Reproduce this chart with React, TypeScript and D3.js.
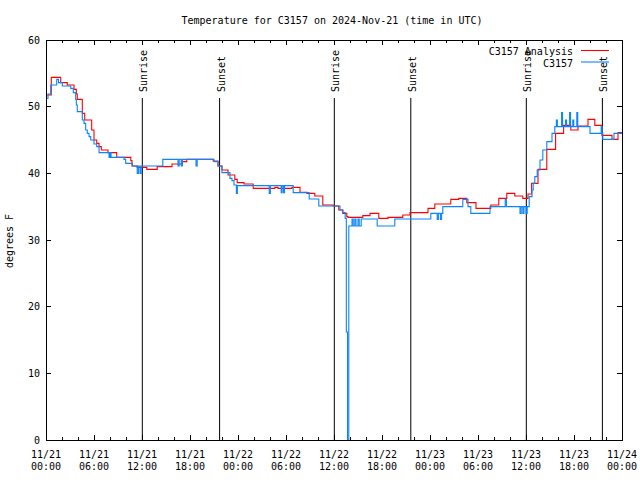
import React from 'react';
import * as d3 from 'd3';

const TITLE = 'Temperature for C3157 on 2024-Nov-21 (time in UTC)';
const Y_LABEL = 'degrees F';
const START = Date.UTC(2024, 10, 21);
const END_HOURS = 72;

// C3157 Analysis (hours since 2024-11-21 00:00 UTC)
const analysisHours = [0, 0.66, 1.84, 2.66, 3.5, 3.79, 3.91, 4.54, 4.84, 5.71, 6.0, 6.34, 6.63, 6.91, 7.75, 8.84, 10.6, 10.75, 11.4, 12.6, 13.9, 15.75, 17.0, 17.6, 20.9, 21.5, 22.0, 22.75, 23.6, 23.9, 24.75, 25.9, 28.6, 29.0, 30.75, 31.75, 32.6, 33.6, 34.6, 35.9, 36.6, 37.1, 37.6, 37.75, 39.6, 40.5, 41.6, 42.75, 44.6, 45.5, 47.75, 48.6, 50.6, 51.6, 52.6, 53.75, 55.6, 56.6, 57.6, 58.6, 59.6, 60.25, 60.7, 61.5, 62.6, 63.7, 64.7, 65.6, 66.5, 67.75, 68.6, 69.5, 70.75, 71.5, 72];
const analysisTemps = [51.75, 54.4, 53.6, 53.25, 52.6, 51.9, 51.1, 49, 48, 46.5, 45, 44.5, 44, 43.5, 43.1, 42.4, 41.9, 41.1, 40.9, 40.6, 41, 41.4, 41.75, 42.1, 41.85, 41.1, 40.5, 39.75, 39.1, 38.6, 38.4, 37.75, 37.9, 37.75, 37.9, 37.15, 37, 36.6, 35.25, 35.1, 34.5, 34, 33.5, 33.4, 33.65, 34, 33.25, 33.4, 33.75, 34.1, 34.75, 35.4, 36.1, 36.25, 35.6, 34.75, 35.25, 36.25, 37, 36.6, 36.25, 36.9, 38.5, 40.6, 43.6, 46, 47.2, 46.5, 47.1, 48.1, 47.2, 45.7, 45.1, 46.1, 46.1];

// C3157 station observations
const stationHours = [0, 0.25, 0.59, 1.34, 1.56, 2.04, 3.09, 3.41, 3.71, 3.79, 3.91, 4.54, 4.75, 4.96, 5.16, 5.38, 5.59, 6.0, 6.34, 6.63, 7.88, 8.0, 8.13, 9.75, 9.96, 10.8, 11.4, 11.55, 11.75, 11.9, 14.6, 16.5, 16.65, 16.9, 17.05, 18.75, 18.9, 21.0, 21.5, 22.0, 23.0, 23.25, 23.5, 23.8, 23.92, 27.9, 28.05, 29.4, 29.52, 29.7, 29.82, 30.9, 32.9, 34.1, 36.75, 37.1, 37.4, 37.54, 37.69, 37.85, 38.25, 38.4, 38.6, 38.75, 39.0, 39.15, 39.4, 41.4, 43.6, 48.1, 48.9, 49.05, 49.3, 49.45, 49.6, 52.1, 52.75, 53.1, 55.5, 57.4, 57.55, 59.25, 59.4, 59.6, 59.75, 60.0, 60.15, 60.4, 60.75, 60.9, 61.1, 61.4, 61.75, 62.1, 62.6, 63.25, 63.6, 63.8, 63.92, 64.45, 64.57, 64.95, 65.07, 65.45, 65.57, 65.85, 65.97, 66.35, 66.47, 68.0, 69.4, 69.52, 69.6, 71.0, 72];
const stationTemps = [51.25, 51.9, 53.25, 54.1, 53.6, 53.1, 52.75, 52.1, 51.1, 50.25, 49.25, 48, 47.5, 46.5, 46, 45.5, 45, 44.4, 44, 43.1, 42.4, 43.1, 42.4, 42.1, 41.5, 41.1, 40, 41.1, 40, 41.1, 42.1, 41.1, 42.1, 41.1, 42.1, 41.1, 42.1, 41.75, 41.1, 40.1, 39.25, 38.9, 38.25, 37, 38.15, 37, 38.15, 37.1, 38.15, 37.1, 38.15, 37.1, 36.15, 35.1, 34.5, 34.1, 33.25, 16.2, 0, 32.1, 33.15, 32.1, 33.15, 32.1, 33.15, 32.1, 33.15, 32.1, 33.15, 34, 33.1, 34, 33.1, 34, 35, 36.1, 35, 34, 35, 36.1, 35, 34, 35, 34, 35, 34, 35, 36.5, 37.5, 38.5, 39.5, 40.5, 42, 43.5, 44.75, 46, 47, 48, 47, 49.1, 47, 48, 47, 49.1, 47, 48, 47, 49.1, 47, 46, 47, 46, 45.1, 46, 46];

const sunEvents = ['Sunrise', 'Sunset', 'Sunrise', 'Sunset', 'Sunrise', 'Sunset'];
const sunHours = [12.04, 21.7, 36.04, 45.6, 60.04, 69.55];

const seriesNames = ['C3157 Analysis', 'C3157'];
const seriesColors = ['#ff0000', '#0a84ff'];
const yTicks = [0, 10, 20, 30, 40, 50, 60];

const FONT = '"DejaVu Sans Mono", monospace';

const toDate = (h: number) => new Date(START + h * 3600e3);

export default function App() {
  const W = 640, H = 480;
  const left = 46, right = 622, top = 40, bottom = 440;
  const x = d3.scaleUtc().domain([toDate(0), toDate(END_HOURS)]).range([left, right]);
  const y = d3.scaleLinear().domain([0, 60]).range([bottom, top]);
  const line = d3.line<[Date, number]>().x(d => x(d[0])).y(d => y(d[1])).curve(d3.curveStepAfter);

  const analysis: [Date, number][] = analysisHours.map((h, i) => [toDate(h), analysisTemps[i]]);
  const station: [Date, number][] = stationHours.map((h, i) => [toDate(h), stationTemps[i]]);

  const majorTicks = x.ticks(d3.utcHour.every(6) as any);
  const minorTicks = x.ticks(d3.utcHour.every(2) as any);
  const fmtDay = d3.utcFormat('%m/%d');
  const fmtTime = d3.utcFormat('%H:%M');

  return (
    <svg width={W} height={H} style={{ position: 'absolute', left: 0, top: 0, background: '#fff' }}
      fontFamily={FONT} fontSize={10}>
      <rect x={0} y={0} width={W} height={H} fill="#fff" />
      <text x={332} y={24} textAnchor="middle">{TITLE}</text>

      {yTicks.map(t => (
        <g key={'y' + t}>
          <line x1={left} x2={left + 5} y1={y(t)} y2={y(t)} stroke="#000" shapeRendering="crispEdges" />
          <line x1={right - 5} x2={right} y1={y(t)} y2={y(t)} stroke="#000" shapeRendering="crispEdges" />
          <text x={40} y={y(t) + 3.6} textAnchor="end">{t}</text>
        </g>
      ))}
      {minorTicks.map((t, i) => (
        <g key={'m' + i}>
          <line x1={x(t)} x2={x(t)} y1={bottom} y2={bottom - 3} stroke="#000" shapeRendering="crispEdges" />
          <line x1={x(t)} x2={x(t)} y1={top} y2={top + 3} stroke="#000" shapeRendering="crispEdges" />
        </g>
      ))}
      {majorTicks.map((t, i) => (
        <g key={'M' + i}>
          <line x1={x(t)} x2={x(t)} y1={bottom} y2={bottom - 5} stroke="#000" shapeRendering="crispEdges" />
          <line x1={x(t)} x2={x(t)} y1={top} y2={top + 5} stroke="#000" shapeRendering="crispEdges" />
          <text x={x(t)} y={458} textAnchor="middle">{fmtDay(t)}</text>
          <text x={x(t)} y={470} textAnchor="middle">{fmtTime(t)}</text>
        </g>
      ))}

      <text transform={`translate(13,241) rotate(-90)`} textAnchor="middle">{Y_LABEL}</text>

      {sunHours.map((h, i) => (
        <g key={'s' + i}>
          <line x1={x(toDate(h))} x2={x(toDate(h))} y1={98} y2={bottom} stroke="#000" strokeWidth={1} />
          <text transform={`translate(${x(toDate(h)) + 5},92) rotate(-90)`} textAnchor="start">{sunEvents[i]}</text>
        </g>
      ))}

      <path d={line(analysis) || ''} fill="none" stroke={seriesColors[0]} strokeWidth={1.1} />
      <path d={line(station) || ''} fill="none" stroke={seriesColors[1]} strokeWidth={1.1} />

      {seriesNames.map((n, i) => (
        <g key={'l' + i}>
          <text x={573} y={55 + i * 11.5} textAnchor="end">{n}</text>
          <line x1={581} x2={609} y1={50.5 + i * 11.5} y2={50.5 + i * 11.5} stroke={seriesColors[i]} strokeWidth={1.1} />
        </g>
      ))}

      <rect x={left} y={top} width={right - left} height={bottom - top} fill="none" stroke="#000" shapeRendering="crispEdges" />
    </svg>
  );
}
